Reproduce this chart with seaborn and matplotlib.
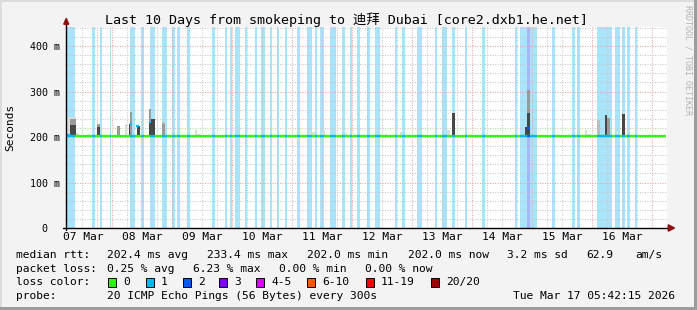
import numpy as np
import pandas as pd
import matplotlib
matplotlib.use('Agg')
import matplotlib.pyplot as plt
import seaborn as sns
from matplotlib.patches import Rectangle, Polygon

sns.set_theme(style='white')
plt.rcParams['font.family'] = ['DejaVu Sans Mono', 'Noto Sans CJK SC']

# ---------------- data (hours since graph start, values in ms) ----------------
day_labels = ['07 Mar', '08 Mar', '09 Mar', '10 Mar', '11 Mar',
              '12 Mar', '13 Mar', '14 Mar', '15 Mar', '16 Mar']
day_label_hours = [6.4, 30.2, 54.1, 78.0, 101.9, 125.9, 149.9, 173.9, 197.9, 221.9]
midnight_hours = [17.9, 41.9, 65.9, 89.9, 113.9, 137.9, 161.9, 185.9, 209.9, 233.9]
y_ticks = [0, 100, 200, 300, 400]
y_tick_labels = ['0  ', '100 m', '200 m', '300 m', '400 m']

median_base = 202.0

loss1_start = [0.0, 10.1, 13.2, 17.2, 25.2, 29.5, 33.2, 37.9, 41.9, 44.1, 47.9, 58.0,
               63.2, 65.1, 67.1, 71.2, 75.2, 77.5, 81.2, 83.9, 87.1, 91.9, 96.1, 99.3,
               101.3, 105.2, 110.0, 113.1, 115.9, 119.9, 123.2, 131.2, 133.9, 139.9,
               147.2, 149.9, 153.9, 159.2, 165.9, 179.2, 181.2, 193.9, 201.9, 203.9,
               211.9, 219.2, 221.9, 223.9, 227.2]
loss1_end = [3.2, 11.2, 14.0, 17.7, 27.1, 30.8, 35.2, 40.0, 43.2, 45.2, 49.2, 59.3,
             64.0, 65.9, 69.2, 71.9, 76.0, 79.1, 82.0, 84.7, 87.9, 93.2, 98.0, 100.1,
             102.9, 107.6, 111.1, 113.9, 117.2, 121.2, 125.1, 132.0, 135.2, 141.9,
             147.9, 152.0, 155.2, 160.0, 167.2, 180.0, 187.9, 195.2, 203.2, 205.1,
             217.9, 221.1, 223.2, 225.2, 227.9]
loss2_start = [183.9]
loss2_end = [185.2]

# smoke bars: start, end, top (ms), shade level
smoke_start = [0.0, 1.2, 1.2, 3.6, 8.0, 11.9, 11.9, 13.6, 19.9, 23.2, 24.8, 25.2,
               27.9, 32.8, 32.8, 33.7, 37.9, 37.9, 51.2, 51.9, 61.9, 79.5, 82.8,
               96.8, 101.9, 111.2, 125.2, 127.2, 133.2, 151.9, 153.9, 158.9, 169.2,
               174.0, 183.9, 183.9, 183.1, 207.2, 207.9, 211.9, 215.2, 215.9, 218.4,
               219.6, 221.9, 237.9]
smoke_end = [3.6, 3.6, 3.6, 4.8, 9.2, 13.2, 13.2, 17.6, 21.2, 23.9, 25.2, 26.1,
             29.2, 33.7, 33.7, 35.2, 39.2, 39.2, 51.9, 53.5, 62.8, 80.8, 83.6,
             99.1, 103.2, 111.9, 125.9, 127.9, 133.9, 153.2, 155.2, 159.9, 169.9,
             176.0, 185.2, 185.2, 183.9, 207.9, 209.5, 213.2, 215.9, 217.2, 219.6,
             220.4, 223.2, 239.2]
smoke_top = [245, 239, 226, 208, 206, 228, 222, 205, 224, 229, 229, 256,
             224, 262, 232, 239, 232, 228, 215, 206, 204, 205, 205,
             211, 213, 209, 206, 206, 212, 215, 253, 205, 204,
             204, 303, 252, 221, 215, 206, 237, 248, 242, 205,
             212, 250, 205]
smoke_shade = [0, 2, 3, 0, 0, 2, 3, 0, 2, 0, 3, 2,
               3, 2, 3, 3, 1, 2, 0, 0, 0, 0, 0,
               0, 0, 0, 0, 0, 0, 0, 3, 0, 0,
               0, 2, 3, 3, 0, 0, 1, 3, 2, 0,
               0, 3, 0]

# median segments that differ from the base value
med_start = [0.0, 25.2, 27.6, 32.8, 183.9]
med_end = [1.6, 26.1, 28.9, 33.7, 185.2]
med_value = [205, 228, 224, 232, 219]
med_loss = [1, 1, 1, 1, 2]

loss_labels = ['0', '1', '2', '3', '4-5', '6-10', '11-19', '20/20']

# ---------------- styles ----------------
W, H = 697, 310
loss_colors = ['#26ff00', '#00b8ff', '#0059ff', '#7e00ff', '#dd00ff', '#ff5500', '#ff0000', '#a10000']
band_colors = {1: '#a8e4fb', 2: '#aab4f6'}
shade_colors = ['#dcdcdc', '#bdbdbd', '#9a9a9a', '#474747']
LEG_FS = 8.1

fig = plt.figure(figsize=(W / 100, H / 100), dpi=100, facecolor='#f3f3f3')
ax = fig.add_axes([67 / W, (H - 228) / H, 600 / W, 201 / H])
ax.set_facecolor('white')
ax.set_xlim(0, 240)
ax.set_ylim(0, 442)
for s in ax.spines.values():
    s.set_visible(False)

# loss background bands
for s, e in zip(loss1_start, loss1_end):
    ax.axvspan(s, e, color=band_colors[1], lw=0, zorder=1)
for s, e in zip(loss2_start, loss2_end):
    ax.axvspan(s, e, color=band_colors[2], lw=0, zorder=1)

# grid
dot = (0, (1.0, 1.4))
for h in np.arange(5.9, 240, 6.0):
    if min(abs(h - m) for m in midnight_hours) > 0.5:
        ax.axvline(h, color='#c8c8c8', lw=0.75, ls=dot, zorder=2)
for m in midnight_hours:
    ax.axvline(m, color='#eaa4a4', lw=0.75, ls=dot, zorder=2)
for v in range(20, 442, 20):
    if v % 100:
        ax.axhline(v, color='#c8c8c8', lw=0.75, ls=dot, zorder=2)
for v in y_ticks[1:]:
    ax.axhline(v, color='#eaa4a4', lw=0.75, ls=dot, zorder=2)

# smoke
order = np.argsort(smoke_shade, kind='stable')
for i in order:
    ax.bar(smoke_start[i], smoke_top[i] - median_base, width=smoke_end[i] - smoke_start[i],
           bottom=median_base, align='edge', color=shade_colors[smoke_shade[i]], lw=0, zorder=3)

# median line
med_df = pd.DataFrame({'hour': [0.0, 239.2], 'rtt': [median_base, median_base]})
sns.lineplot(data=med_df, x='hour', y='rtt', color=loss_colors[0], lw=1.6, ax=ax, zorder=5)
for s, e in zip(loss1_start, loss1_end):
    ax.hlines(median_base, s, e, color=loss_colors[1], lw=1.6, zorder=6)
for s, e in zip(loss2_start, loss2_end):
    ax.hlines(median_base, s, e, color=loss_colors[2], lw=1.6, zorder=6)
for s, e, v, l in zip(med_start, med_end, med_value, med_loss):
    ax.hlines(v, s, e, color=loss_colors[l], lw=1.6, zorder=7)

ax.set_xlabel('')
ax.set_ylabel('')
ax.set_xticks(day_label_hours)
ax.set_xticklabels(day_labels, fontsize=LEG_FS)
ax.set_yticks(y_ticks)
ax.set_yticklabels(y_tick_labels, fontsize=7.2)
ax.tick_params(axis='both', length=0, colors='black')
ax.tick_params(axis='x', pad=3)
ax.tick_params(axis='y', pad=5)

# axes lines with arrows
ax.plot([-1.8, 241.0], [0, 0], color='black', lw=1.0, clip_on=False, zorder=8)
ax.plot([-0.3, -0.3], [-4, 450], color='black', lw=1.0, clip_on=False, zorder=8)
ax.add_patch(Polygon([[240.5, -7], [240.5, 7], [243.0, 0]], closed=True, color='#8b1010',
                     clip_on=False, zorder=9))
ax.add_patch(Polygon([[-1.3, 448], [0.7, 448], [-0.3, 461]], closed=True, color='#8b1010',
                     clip_on=False, zorder=9))

# ---------------- texts ----------------
def ftext(x, y, s, **kw):
    kw.setdefault('va', 'center')
    kw.setdefault('ha', 'left')
    kw.setdefault('fontsize', LEG_FS)
    kw.setdefault('color', 'black')
    fig.text(x / W, 1 - y / H, s, **kw)

ftext(346.5, 19.3, 'Last 10 Days from smokeping to 迪拜 Dubai [core2.dxb1.he.net]',
      ha='center', fontsize=9.6)
ftext(10, 127.5, 'Seconds', rotation=90, ha='center', fontsize=8.0)
ftext(688, 60, 'RRDTOOL / TOBI OETIKER', rotation=270, ha='center', fontsize=6.0, color='#b4b4b4')

y1, y2, y3, y4 = 255, 268.5, 282.3, 296
ftext(16, y1, 'median rtt:')
ftext(107.3, y1, '202.4 ms avg')
ftext(207.3, y1, '233.4 ms max')
ftext(307.3, y1, '202.0 ms min')
ftext(407.7, y1, '202.0 ms now')
ftext(506.7, y1, '3.2 ms sd')
ftext(586, y1, '62.9')
ftext(635, y1, 'am/s')

ftext(16, y2, 'packet loss:')
ftext(107.3, y2, '0.25 % avg')
ftext(192.7, y2, '6.23 % max')
ftext(279.0, y2, '0.00 % min')
ftext(365, y2, '0.00 % now')

ftext(16, y3, 'loss color:')
box_x = [108.3, 145.7, 182.7, 219.3, 256.0, 307.3, 365.7, 430.7]
for bx, lab, col in zip(box_x, loss_labels, loss_colors):
    fig.patches.append(Rectangle((bx / W, 1 - 286.5 / H), 8 / W, 8.5 / H, transform=fig.transFigure,
                                 facecolor=col, edgecolor='black', lw=0.7))
    ftext(bx + 15, y3, lab)

ftext(16, y4, 'probe:')
ftext(107.3, y4, '20 ICMP Echo Pings (56 Bytes) every 300s')
ftext(513.3, y4, 'Tue Mar 17 05:42:15 2026')

# frame
fig.patches.append(Rectangle((0, 0), 1, 3 / H, transform=fig.transFigure, color='#9c9c9c', lw=0))
fig.patches.append(Rectangle((1 - 3 / W, 0), 3 / W, 1, transform=fig.transFigure, color='#9c9c9c', lw=0))
fig.patches.append(Rectangle((0, 1 - 2 / H), 1 - 3 / W, 2 / H, transform=fig.transFigure, color='#dcdcdc', lw=0))
fig.patches.append(Rectangle((0, 3 / H), 2 / W, 1, transform=fig.transFigure, color='#dcdcdc', lw=0))

fig.savefig('out.png', dpi=100, facecolor=fig.get_facecolor())
